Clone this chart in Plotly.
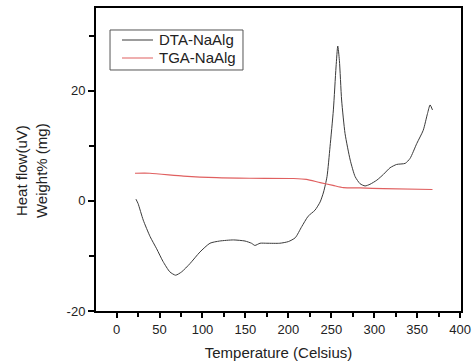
import plotly.graph_objects as go

series_names = ["DTA-NaAlg", "TGA-NaAlg"]
series_colors = ["#3a3a3a", "#e06060"]

dta_x = [22.5, 25, 31, 39, 46.6, 54, 62, 68.7, 75.7, 85.4, 97, 108.7, 120, 136, 149.5, 157, 161, 167, 175,
         190, 200, 208, 215.5, 223, 231, 237, 241, 245, 248.5, 252.4, 255.5, 257.5, 259.4, 262, 266, 272,
         277.7, 283.5, 289.3, 295, 303, 310.7, 318.4, 326, 336, 341.7, 349.5, 357, 362, 365, 367.8]
dta_y = [0.3, -0.5, -3.5, -6.5, -8.7, -11, -12.9, -13.5, -12.9, -11.4, -9.3, -7.7, -7.3, -7.1, -7.3, -7.7, -8.1, -7.7, -7.7,
         -7.7, -7.4, -6.7, -4.7, -2.8, -1.7, -0.2, 1.6, 4.4, 9.8, 16.5, 24.3, 28.1, 25.5, 18.3, 12.2, 7.4,
         4.4, 3.1, 2.7, 3.0, 3.75, 4.8, 6.0, 6.6, 6.8, 7.7, 10.4, 12.8, 15.85, 17.4, 16.5]

tga_x = [21.4, 38.8, 77.7, 116.5, 155, 206, 221, 237, 252, 264, 283.5, 310.7, 367.8]
tga_y = [5.0, 5.0, 4.5, 4.2, 4.1, 4.05, 3.9, 3.3, 2.8, 2.4, 2.35, 2.2, 2.05]

x_ticks = [0, 50, 100, 150, 200, 250, 300, 350, 400]
x_minor = [25, 75, 125, 175, 225, 275, 325, 375]
y_ticks = [-20, 0, 20]
y_minor = [-10, 10, 30]

fig = go.Figure()
fig.add_trace(go.Scatter(x=dta_x, y=dta_y, mode="lines", name=series_names[0],
                         line=dict(color=series_colors[0], width=1, shape="spline", smoothing=0.6)))
fig.add_trace(go.Scatter(x=tga_x, y=tga_y, mode="lines", name=series_names[1],
                         line=dict(color=series_colors[1], width=1.2, shape="spline", smoothing=0.6)))

font_family = "Liberation Sans, Arial, sans-serif"

# legend drawn manually (box, line samples, labels) to match the compact original layout
shapes = [dict(type="rect", xref="paper", yref="paper", x0=0.0384, x1=0.4027, y0=0.7954, y1=0.9274,
               line=dict(color="#555", width=1), fillcolor="white", layer="above")]
annotations = []
leg_y = [0.8944, 0.835]
for name, color, yy in zip(series_names, series_colors, leg_y):
    shapes.append(dict(type="line", xref="paper", yref="paper", x0=0.0712, x1=0.1562, y0=yy, y1=yy,
                       line=dict(color=color, width=1.2), layer="above"))
    annotations.append(dict(text=name, xref="paper", yref="paper", x=0.1671, y=yy, xanchor="left",
                            yanchor="middle", showarrow=False, font=dict(size=15, color="#222")))

annotations.append(dict(text="Heat flow(uV)<br>Weight% (mg)", xref="paper", yref="paper",
                        x=-0.178, y=0.462, xanchor="center", yanchor="middle", textangle=-90,
                        showarrow=False, font=dict(size=15, color="#222")))

fig.update_layout(
    width=472, height=363,
    margin=dict(l=96, r=11, t=8, b=52, autoexpand=False),
    paper_bgcolor="white", plot_bgcolor="white",
    font=dict(family=font_family, color="#222", size=13),
    showlegend=False,
    shapes=shapes,
    annotations=annotations,
    xaxis=dict(range=[-24, 401], tickvals=x_ticks, ticktext=[str(v) for v in x_ticks],
               automargin=False,
               showgrid=False, zeroline=False, showline=True, linecolor="black", linewidth=2,
               mirror=True, ticks="outside", ticklen=5, tickwidth=1.5, tickcolor="black",
               minor=dict(tickvals=x_minor, ticks="outside", ticklen=4,
                          tickwidth=1.5, tickcolor="black"),
               tickfont=dict(size=13),
               title=dict(text="Temperature (Celsius)", font=dict(size=15), standoff=12)),
    yaxis=dict(range=[-20, 35], tickvals=y_ticks, ticktext=[str(v) for v in y_ticks],
               automargin=False,
               showgrid=False, zeroline=False, showline=True, linecolor="black", linewidth=2,
               mirror=True, ticks="outside", ticklen=6, tickwidth=1.5, tickcolor="black",
               minor=dict(tickvals=y_minor, ticks="outside", ticklen=5,
                          tickwidth=1.5, tickcolor="black"),
               tickfont=dict(size=13)),
)

fig.write_html("out.html")
